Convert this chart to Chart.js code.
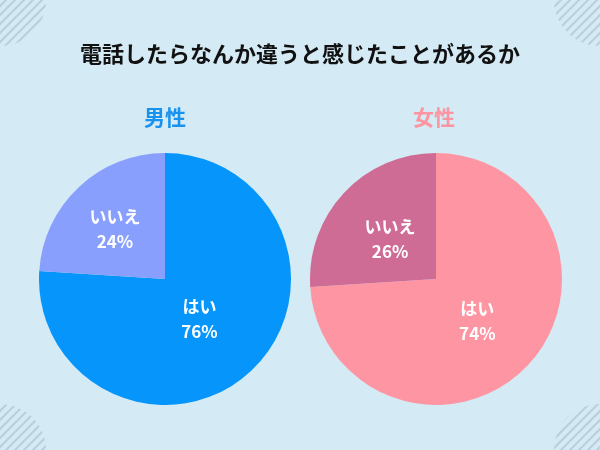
<!DOCTYPE html>
<html><head><meta charset="utf-8">
<script src="https://cdn.jsdelivr.net/npm/chart.js@4"></script>
<style>
body{margin:0;width:600px;height:450px;background:#d4eaf4;position:relative;overflow:hidden;font-family:"Noto Sans CJK JP",sans-serif}
#bg{position:absolute;left:0;top:0}
.t{position:absolute;width:600px;text-align:center;top:36px;font-size:22px;font-weight:bold;color:#111}
.h{position:absolute;font-size:21px;font-weight:bold;top:101px;width:100px;text-align:center}
.c{position:absolute;top:153px;width:252px;height:252px}
</style></head><body>
<canvas id="bg" width="600" height="450"></canvas>
<div class="t">電話したらなんか違うと感じたことがあるか</div>
<div class="h" style="left:115px;color:#1793ef">男性</div>
<div class="h" style="left:384px;color:#fc95a1">女性</div>
<div class="c" style="left:39px"><canvas id="male"></canvas></div>
<div class="c" style="left:310px"><canvas id="female"></canvas></div>
<script>
// Data
const labels = ['はい', 'いいえ'];
const maleValues = [76, 24];
const femaleValues = [74, 26];
const maleColors = ['#0595fb', '#889ffd'];
const femaleColors = ['#fd96a2', '#cf6c96'];

// corner hatching
const bg = document.getElementById('bg').getContext('2d');
function hatch(cx, cy) {
    bg.save();
    bg.beginPath(); bg.arc(cx, cy, 46, 0, Math.PI * 2); bg.clip();
    bg.strokeStyle = '#b9cfdb'; bg.lineWidth = 2;
    for (let k = -120; k < 120; k += 9) {
        bg.beginPath(); bg.moveTo(cx + k - 60, cy + 60); bg.lineTo(cx + k + 60, cy - 60); bg.stroke();
    }
    bg.restore();
}
hatch(0, 0); hatch(600, 0); hatch(0, 450); hatch(600, 450);

// slice labels
const sliceLabels = {
    id: 'sliceLabels',
    afterDatasetsDraw(chart, args, opts) {
        const ctx = chart.ctx;
        chart.getDatasetMeta(0).data.forEach((arc, i) => {
            const mid = (arc.startAngle + arc.endAngle) / 2;
            const r = arc.outerRadius * opts.factors[i];
            const x = arc.x + Math.cos(mid) * r, y = arc.y + Math.sin(mid) * r + 3;
            ctx.save();
            ctx.fillStyle = '#fff'; ctx.textAlign = 'center'; ctx.textBaseline = 'middle';
            ctx.font = 'bold 17px "Noto Sans CJK JP"';
            ctx.fillText(labels[i], x, y - 12);
            ctx.fillText(chart.data.datasets[0].data[i] + '%', x, y + 13);
            ctx.restore();
        });
    }
};

function makePie(el, values, colors, factors) {
    new Chart(document.getElementById(el), {
        type: 'pie',
        data: { labels: labels, datasets: [{ data: values, backgroundColor: colors, borderWidth: 0 }] },
        options: {
            responsive: true, maintainAspectRatio: false, animation: false,
            layout: { padding: 0 },
            plugins: { legend: { display: false }, tooltip: { enabled: false }, sliceLabels: { factors: factors } }
        },
        plugins: [sliceLabels]
    });
}
makePie('male', maleValues, maleColors, [0.4, 0.58]);
makePie('female', femaleValues, femaleColors, [0.45, 0.5]);
</script>
</body></html>
